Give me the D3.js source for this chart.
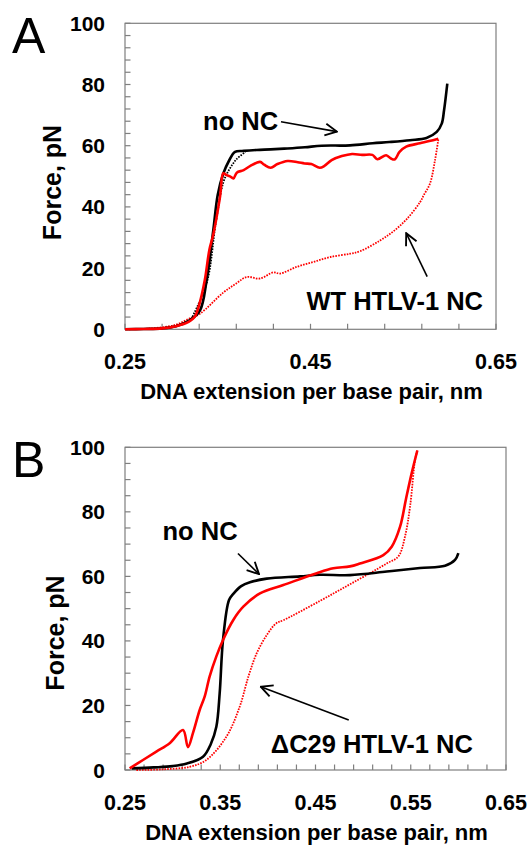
<!DOCTYPE html>
<html>
<head>
<meta charset="utf-8">
<script src="https://cdn.jsdelivr.net/npm/d3@7"></script>
<style>
  body { margin: 0; background: #fff; }
  text { font-family: "Liberation Sans", Arial, sans-serif; }
</style>
</head>
<body>
<div id="chart"></div>
<script>
// ---- data (x = DNA extension per base pair, nm ; F = force, pN) ----
var xTicksA = [0.25, 0.45, 0.65];
var xTicksB = [0.25, 0.35, 0.45, 0.55, 0.65];
var yTicks = [0, 20, 40, 60, 80, 100];

// panel A
var aNoNC = [[0.25,0],[0.27,0.1],[0.29,0.3],[0.305,1],[0.32,3],[0.3309,6.2],[0.338,16],[0.3452,32.4],
  [0.350,44],[0.356,50.9],[0.362,55],[0.3686,58],[0.378,58.3],[0.392,58.6],[0.407,58.8],[0.425,59.1],[0.444,59.5],
  [0.462,60],[0.4926,60.1],[0.517,60.8],[0.535,61.2],[0.5573,61.8],[0.575,62.5],[0.5861,64.5],
  [0.5915,67.2],[0.594,71.6],[0.5975,80.3]];
var aNoNCret = [[0.320,2.5],[0.338,15],[0.348,35],[0.356,48],[0.362,52],[0.370,55.5],[0.380,58]];
var aWT = [[0.25,0],[0.27,0.1],[0.290,0.3],[0.305,1],[0.319,2.5],[0.325,4],[0.330,8],[0.336,16],[0.341,26],
  [0.3452,31],[0.3524,43.2],[0.356,51],[0.3596,50.4],[0.3632,50],[0.3669,49.3],[0.3705,51.2],[0.3779,52],
  [0.3852,53.4],[0.3956,54.7],[0.4000,53.8],[0.4071,52.8],[0.4144,54],[0.4253,55],[0.4363,54.6],[0.4436,54.2],
  [0.4509,54],[0.4600,52.8],[0.4650,53.4],[0.4728,55.3],[0.4838,56.6],[0.4948,57.3],[0.5057,57],[0.5167,57],
  [0.5221,55.6],[0.5316,56.9],[0.5368,55.8],[0.5408,55.5],[0.5460,58],[0.5532,59.7],[0.5680,60.8],
  [0.5780,61.5],[0.5878,62.3]];
var aWTret = [[0.5878,62],[0.5842,55.2],[0.5788,47.6],[0.5724,44],[0.568,41.5],[0.5537,36],[0.5393,32],
  [0.5249,29],[0.5034,25.5],[0.4926,24.7],[0.4709,23.6],[0.4530,22],[0.4351,20.4],[0.4171,18.2],[0.4100,18.6],
  [0.3956,16.6],[0.3812,17.1],[0.370,15],[0.356,12],[0.3308,5.1],[0.3194,3.5],[0.305,1.5],[0.279,0.3],[0.25,0]];

// panel B
var bNoNC = [[0.257,0.5],[0.28,0.8],[0.30,1.2],[0.315,2],[0.3319,4.1],[0.340,8],[0.3459,13.4],[0.3494,23.8],
  [0.3529,40.3],[0.3592,52.7],[0.3637,54.6],[0.372,57],[0.3812,58.2],[0.3988,59.3],[0.4337,60],[0.4547,60.5],
  [0.4862,60.4],[0.5248,61.5],[0.5597,62.6],[0.586,63.3],[0.5965,65.1],[0.600,67.2]];
var bDC29 = [[0.2549,0.5],[0.2689,3.1],[0.2829,5.7],[0.2969,8.3],[0.3109,12.4],[0.3161,7.1],[0.3214,11.5],
  [0.3284,18.6],[0.3337,22.8],[0.3389,29],[0.3459,35.2],[0.3529,40.3],[0.3637,46.5],[0.3742,50.6],[0.3917,54.7],
  [0.4162,57.3],[0.4513,61],[0.4687,62.5],[0.4862,63.1],[0.4967,64],[0.5212,66.6],[0.530,69.2],[0.5388,75.4],
  [0.545,84],[0.551,92],[0.5569,99]];
var bDC29ret = [[0.5569,99],[0.5545,96],[0.5493,81.7],[0.5440,72.4],[0.5370,66.2],[0.5248,64],[0.5072,61],
  [0.4828,57],[0.4547,52.4],[0.4162,46.4],[0.4089,45.5],[0.3988,41.8],[0.3883,36.2],[0.3795,28.9],[0.3704,19.6],
  [0.3564,10.3],[0.3354,3.1],[0.3179,1],[0.289,0.2],[0.261,0]];

var panels = [
  { letter: "A", box: {left: 125, right: 496, top: 23.3, bottom: 329.3},
    xLabels: xTicksA, xMinor: 0.04, yMinor: 4, titleY: 182.5, titleX: 60.5,
    series: [
      {d: aWTret, color: "#ff0000", dotted: true},
      {d: aNoNCret, color: "#000", dotted: true},
      {d: aNoNC, color: "#000"},
      {d: aWT, color: "#ff0000"}
    ],
    notes: [
      {text: "no NC", x: 0.3342, y: 65.1, from: [0.4182, 67.8], to: [0.4784, 64.6]},
      {text: "WT HTLV-1 NC", x: 0.4456, y: 6.3, from: [0.5758, 17.2], to: [0.5532, 31.4]}
    ] },
  { letter: "B", box: {left: 125, right: 506, top: 447.3, bottom: 770},
    xLabels: xTicksB, xMinor: 0.02, yMinor: 5, titleY: 633, titleX: 63.5,
    series: [
      {d: bDC29ret, color: "#ff0000", dotted: true},
      {d: bNoNC, color: "#000"},
      {d: bDC29, color: "#ff0000"}
    ],
    notes: [
      {text: "no NC", x: 0.2894, y: 71.3, from: [0.3686, 67.1], to: [0.3907, 60.7]},
      {text: "\u0394C29 HTLV-1 NC", x: 0.4031, y: 5.4, from: [0.4849, 15.5], to: [0.3925, 25.8]}
    ] }
];

var svg = d3.select("#chart").append("svg")
    .attr("width", 531)
    .attr("height", 845);

svg.append("defs").append("marker")
    .attr("id", "head")
    .attr("viewBox", "0 0 12 12")
    .attr("refX", 11).attr("refY", 6)
    .attr("markerWidth", 14).attr("markerHeight", 14)
    .attr("markerUnits", "userSpaceOnUse")
    .attr("orient", "auto")
  .append("path")
    .attr("d", "M1,1 L11,6 L1,11")
    .attr("fill", "none")
    .attr("stroke", "#000")
    .attr("stroke-width", 1.6);

panels.forEach(function(p) {
  var b = p.box;
  var x = d3.scaleLinear().domain([0.25, 0.65]).range([b.left, b.right]);
  var y = d3.scaleLinear().domain([0, 100]).range([b.bottom, b.top]);

  var g = svg.append("g");

  // frame
  g.append("rect")
    .attr("x", b.left).attr("y", b.top)
    .attr("width", b.right - b.left).attr("height", b.bottom - b.top)
    .attr("fill", "none").attr("stroke", "#7f7f7f").attr("stroke-width", 1.2);

  // minor ticks inside
  var xm = d3.range(0.25, 0.6501, p.xMinor);
  g.selectAll(".xt").data(xm).enter().append("line")
    .attr("x1", function(d) { return x(d); }).attr("x2", function(d) { return x(d); })
    .attr("y1", b.bottom).attr("y2", b.bottom - 5.5)
    .attr("stroke", "#7f7f7f").attr("stroke-width", 1.2);
  var ym = d3.range(0, 100.01, p.yMinor);
  g.selectAll(".yt").data(ym).enter().append("line")
    .attr("x1", b.left).attr("x2", b.left + 5.5)
    .attr("y1", function(d) { return y(d); }).attr("y2", function(d) { return y(d); })
    .attr("stroke", "#7f7f7f").attr("stroke-width", 1.2);

  // tick labels
  g.selectAll(".yl").data(yTicks).enter().append("text")
    .attr("x", 105).attr("y", function(d) { return y(d); })
    .attr("dy", "0.36em")
    .attr("text-anchor", "end")
    .attr("font-size", 21).attr("font-weight", "bold")
    .text(function(d) { return d; });
  g.selectAll(".xl").data(p.xLabels).enter().append("text")
    .attr("x", function(d) { return x(d); }).attr("y", b.bottom + 39.5)
    .attr("text-anchor", "middle")
    .attr("font-size", 21.5).attr("font-weight", "bold")
    .text(function(d) { return d3.format(".2f")(d); });

  // axis titles
  g.append("text")
    .attr("x", (b.left + b.right) / 2 + 1).attr("y", b.bottom + 69.5)
    .attr("text-anchor", "middle")
    .attr("font-size", 22).attr("font-weight", "bold")
    .text("DNA extension per base pair, nm");
  g.append("text")
    .attr("transform", "translate(" + p.titleX + "," + p.titleY + ") rotate(-90)")
    .attr("text-anchor", "middle")
    .attr("font-size", 25).attr("font-weight", "bold")
    .text("Force, pN");

  // panel letter
  g.append("text")
    .attr("x", 12).attr("y", b.top + 29.5)
    .attr("font-size", 50)
    .text(p.letter);

  // curves
  var line = d3.line()
    .x(function(d) { return x(d[0]); })
    .y(function(d) { return y(d[1]); })
    .curve(d3.curveCatmullRom.alpha(0.5));
  p.series.forEach(function(s) {
    g.append("path")
      .datum(s.d)
      .attr("d", line)
      .attr("fill", "none")
      .attr("stroke", s.color)
      .attr("stroke-width", s.dotted ? 1.8 : 2.6)
      .attr("stroke-dasharray", s.dotted ? "1.6,1.2" : null)
      .attr("stroke-linejoin", "round");
  });

  // annotations
  p.notes.forEach(function(n) {
    g.append("text")
      .attr("x", x(n.x)).attr("y", y(n.y))
      .attr("font-size", 25.5).attr("font-weight", "bold")
      .text(n.text);
    g.append("line")
      .attr("x1", x(n.from[0])).attr("y1", y(n.from[1]))
      .attr("x2", x(n.to[0])).attr("y2", y(n.to[1]))
      .attr("stroke", "#000").attr("stroke-width", 1.6)
      .attr("marker-end", "url(#head)");
  });
});
</script>
</body>
</html>
